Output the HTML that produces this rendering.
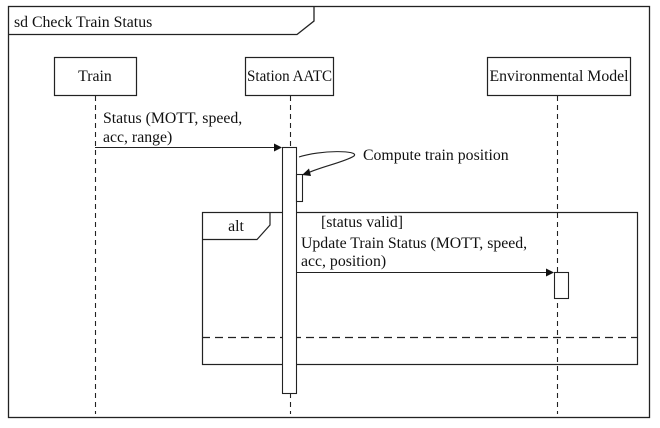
<!DOCTYPE html>
<html><head><style>body{margin:0;background:#fff}svg{display:block}</style></head><body>
<svg width="660" height="428" xmlns="http://www.w3.org/2000/svg" font-family="Liberation Serif, serif" font-size="15.8" fill="#111">
<rect x="0" y="0" width="660" height="428" fill="#fff"/>
<rect x="8.5" y="6.5" width="641" height="411" fill="none" stroke="#222" stroke-width="1.3"/>
<polyline points="8.5,34.5 297,34.5 314,21 314,6.5" fill="none" stroke="#222" stroke-width="1.3"/>
<text x="14" y="27">sd Check Train Status</text>
<g fill="#fff" stroke="#222" stroke-width="1.2">
<rect x="54.5" y="57.5" width="82" height="38"/>
<rect x="245.5" y="57.5" width="88" height="38"/>
<rect x="487.5" y="57.5" width="143" height="38"/>
</g>
<text x="95" y="81" text-anchor="middle">Train</text>
<text x="247" y="81" textLength="85" lengthAdjust="spacingAndGlyphs">Station AATC</text>
<text x="559" y="81" text-anchor="middle">Environmental Model</text>
<g stroke="#222" stroke-dasharray="5,4" stroke-width="1.1">
<line x1="95.5" y1="96" x2="95.5" y2="414"/>
<line x1="290.5" y1="96" x2="290.5" y2="414"/>
<line x1="557.5" y1="96" x2="557.5" y2="414"/>
</g>
<rect x="202.5" y="212.5" width="435" height="152" fill="none" stroke="#222" stroke-width="1.2"/>
<polyline points="202.5,239.5 257,239.5 270,225 270,212.5" fill="none" stroke="#222" stroke-width="1.2"/>
<text x="236" y="231" text-anchor="middle">alt</text>
<line x1="202" y1="337.5" x2="637" y2="337.5" stroke="#222" stroke-dasharray="8,5" stroke-width="1.2"/>
<rect x="282.5" y="147.5" width="14" height="246" fill="#fff" stroke="#222" stroke-width="1.1"/>
<rect x="296.5" y="174.5" width="6" height="27" fill="#fff" stroke="#222" stroke-width="1.1"/>
<rect x="554.5" y="272.5" width="14" height="26" fill="#fff" stroke="#222" stroke-width="1.1"/>
<line x1="95" y1="147.5" x2="276" y2="147.5" stroke="#222" stroke-width="1.1"/>
<polygon points="282,147.5 274,143.5 274,151.5" fill="#111"/>
<path d="M299,157 C320,150 360,150 354,156 C345,162 320,167 308,173" fill="none" stroke="#222" stroke-width="1.1"/>
<polygon points="302,175 309,168.5 311,176" fill="#111"/>
<line x1="296" y1="272.5" x2="548" y2="272.5" stroke="#222" stroke-width="1.1"/>
<polygon points="554,272.5 546,268.5 546,276.5" fill="#111"/>
<text x="103" y="123">Status (MOTT, speed,</text>
<text x="103" y="142">acc, range)</text>
<text x="363" y="160">Compute train position</text>
<text x="321" y="227">[status valid]</text>
<text x="301" y="248">Update Train Status (MOTT, speed,</text>
<text x="301" y="266">acc, position)</text>
</svg>
</body></html>
